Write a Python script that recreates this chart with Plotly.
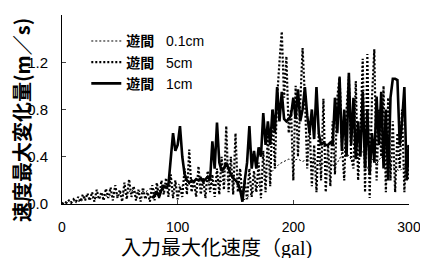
import plotly.graph_objects as go

# ---- data ----
x_5cm = list(range(0, 301, 2))
v_5cm = [
    0.0, 0.02, 0.01, 0.03, 0.01, 0.04, 0.02, 0.06, 0.02, 0.08, 0.03,
    0.09, 0.03, 0.10, 0.02, 0.12, 0.04, 0.10, 0.03, 0.13, 0.05,
    0.14, 0.03, 0.16, 0.05, 0.12, 0.02, 0.18, 0.04, 0.21, 0.06,
    0.15, 0.03, 0.12, 0.02, 0.14, 0.04, 0.10, 0.02, 0.16, 0.03,
    0.18, 0.05, 0.20, 0.08, 0.22, 0.06, 0.25, 0.05, 0.20, 0.04,
    0.15, 0.06, 0.30, 0.08, 0.46, 0.10, 0.20, 0.06, 0.32, 0.08,
    0.22, 0.05, 0.28, 0.10, 0.25, 0.06, 0.30, 0.08, 0.40, 0.12,
    0.66, 0.10, 0.40, 0.08, 0.60, 0.10, 0.30, 0.05, 0.20, 0.04,
    0.30, 0.06, 0.28, 0.10, 0.35, 0.05, 0.45, 0.10, 0.60, 0.15,
    0.80, 0.30, 0.90, 1.20, 1.46, 0.90, 1.25, 0.60, 0.80, 0.20,
    1.00, 0.40, 0.80, 1.32, 0.90, 0.30, 0.70, 0.15, 0.50, 0.10,
    0.60, 0.20, 0.89, 0.10, 0.50, 0.15, 0.70, 0.25, 0.90, 1.08,
    0.50, 0.20, 0.80, 1.08, 0.40, 0.30, 1.04, 0.20, 0.60, 1.23,
    0.10, 1.27, 0.05, 0.90, 1.31, 0.20, 0.80, 0.40, 1.00, 0.10,
    0.90, 0.20, 0.70, 0.10, 0.60, 0.30, 0.80, 0.10, 0.50, 0.20,
]

x_01cm = list(range(0, 301, 4))
v_01cm = [
    0.0, 0.01, 0.02, 0.03, 0.02, 0.05, 0.04, 0.06, 0.05, 0.08,
    0.06, 0.09, 0.07, 0.10, 0.08, 0.12, 0.09, 0.11, 0.10, 0.13,
    0.12, 0.14, 0.15, 0.16, 0.14, 0.17, 0.15, 0.18, 0.16, 0.14,
    0.17, 0.15, 0.19, 0.16, 0.20, 0.18, 0.22, 0.19, 0.16, 0.03,
    0.05, 0.09, 0.14, 0.18, 0.22, 0.26, 0.30, 0.34, 0.36, 0.38,
    0.37, 0.38, 0.36, 0.38, 0.35, 0.37, 0.33, 0.36, 0.34, 0.32,
    0.38, 0.48, 0.40, 0.36, 0.42, 0.45, 0.30, 0.38, 0.34, 0.40,
    0.36, 0.32, 0.30, 0.28, 0.32, 0.30,
]

x_1cm = list(range(78, 301, 2))
v_1cm = [
    0.05, 0.08, 0.10, 0.06, 0.12, 0.15, 0.14, 0.16, 0.35, 0.60,
    0.45, 0.50, 0.66, 0.40, 0.25, 0.20, 0.18, 0.20, 0.19, 0.21,
    0.20, 0.22, 0.19, 0.21, 0.23, 0.20, 0.53, 0.30, 0.69, 0.35,
    0.28, 0.30, 0.35, 0.30, 0.25, 0.22, 0.20, 0.18, 0.12, 0.02,
    0.20, 0.35, 0.66, 0.30, 0.45, 0.30, 0.48, 0.40, 0.77, 0.50,
    0.70, 0.50, 0.80, 0.60, 0.99, 0.70, 0.95, 0.72, 0.70, 0.72,
    0.75, 0.90, 0.72, 0.97, 0.70, 0.80, 0.99, 0.75, 0.60, 0.80,
    0.55, 0.99, 0.60, 0.50, 0.52, 0.50, 0.50, 0.52, 0.50, 0.90,
    0.60, 1.07, 0.45, 0.80, 0.40, 1.11, 0.50, 0.90, 0.38, 0.70,
    0.40, 0.95, 0.30, 0.80, 0.25, 0.60, 0.35, 0.91, 0.50, 0.95,
    0.30, 0.80, 0.20, 0.90, 1.06, 1.06, 1.05, 0.50, 0.70, 0.99, 0.20, 0.50,
]

names = ["<b>遊間</b>   0.1cm", "<b>遊間</b>   5cm", "<b>遊間</b>   1cm"]
y_ticks = [0.0, 0.4, 0.8, 1.2, 1.6]
x_ticks = [0, 100, 200, 300]

fig = go.Figure()
fig.add_trace(go.Scatter(x=x_01cm, y=v_01cm, mode="lines", name=names[0],
                         line=dict(color="black", width=1, dash="2px,2px")))
fig.add_trace(go.Scatter(x=x_5cm, y=v_5cm, mode="lines", name=names[1],
                         line=dict(color="black", width=2.2, dash="2px,2px")))
fig.add_trace(go.Scatter(x=x_1cm, y=v_1cm, mode="lines", name=names[2],
                         line=dict(color="black", width=2.6)))

# the page body adds an 8px offset, so the figure is 8px smaller on each side
fig.update_layout(
    width=420, height=250,
    margin=dict(l=54, r=14, t=7, b=54),
    paper_bgcolor="white", plot_bgcolor="white",
    font=dict(family="Liberation Sans, Noto Sans CJK JP", color="black", size=14),
    showlegend=True,
    legend=dict(x=0.07, y=0.945, xanchor="left", yanchor="top",
                bgcolor="rgba(0,0,0,0)", font=dict(size=14),
                tracegroupgap=0),
    xaxis=dict(range=[0, 300], tickvals=x_ticks, ticks="inside", ticklen=4,
               showline=True, linecolor="black", linewidth=1, showgrid=False,
               zeroline=False, tickfont=dict(size=14), ticklabelstandoff=10),
    yaxis=dict(range=[0, 1.6], tickvals=y_ticks, tickformat=".1f", ticks="inside",
               ticklen=4, showline=True, linecolor="black", linewidth=1,
               showgrid=False, zeroline=False, tickfont=dict(size=15),
               ticklabelstandoff=10),
    annotations=[
        dict(text="<b>速度最大変化量(m／s)</b>", xref="paper", yref="paper",
             x=0, y=0.444, xanchor="center", yanchor="middle", xshift=-41,
             textangle=-90, showarrow=False,
             font=dict(family="Noto Sans CJK JP", size=20, color="black")),
        dict(text="入力最大化速度（gal)", xref="paper", yref="paper",
             x=0.446, y=0, xanchor="center", yanchor="middle", yshift=-44,
             showarrow=False,
             font=dict(family="Liberation Serif, Noto Sans CJK JP", size=20, color="black")),
    ],
)

fig.write_html("out.html")
